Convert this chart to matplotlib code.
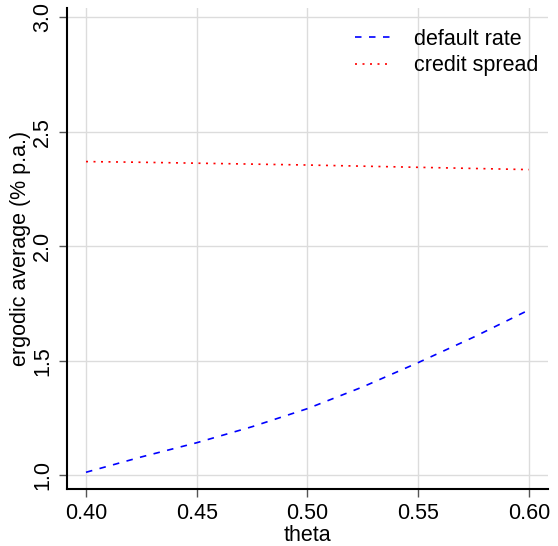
import matplotlib
matplotlib.use('Agg')
import numpy as np
import matplotlib.pyplot as plt

plt.rcParams['font.family'] = ['Liberation Sans', 'DejaVu Sans']

theta = [0.400, 0.425, 0.450, 0.475, 0.500, 0.525, 0.550, 0.575, 0.600]
default_rate = [1.013, 1.080, 1.142, 1.212, 1.291, 1.386, 1.492, 1.603, 1.722]
credit_spread = [2.370, 2.367, 2.363, 2.359, 2.355, 2.350, 2.345, 2.340, 2.335]

xticks = [0.40, 0.45, 0.50, 0.55, 0.60]
yticks = [1.0, 1.5, 2.0, 2.5, 3.0]

fig = plt.figure(figsize=(5.58, 5.46), dpi=100)
ax = fig.add_axes([0.12, 0.104, 0.862, 0.881])

ax.plot(theta, default_rate, color='blue', lw=1.2, dashes=(3.9, 4.5), label='default rate')
ax.plot(theta, credit_spread, color='red', lw=1.2, dashes=(1.2, 3.3), label='credit spread')

ax.set_xlim(0.3914, 0.6086)
ax.set_ylim(0.939, 3.04)
ax.set_xticks(xticks)
ax.set_xticklabels([f'{t:.2f}' for t in xticks])
ax.set_yticks(yticks)
ax.set_yticklabels([f'{t:.1f}' for t in yticks], rotation=90, va='center')

ax.grid(True, color='#dcdcdc', lw=1)
ax.set_axisbelow(True)
for s in ['top', 'right']:
    ax.spines[s].set_visible(False)
for s in ['left', 'bottom']:
    ax.spines[s].set_linewidth(1.5)
ax.tick_params(labelsize=15.5, length=6, width=1, color='#555555', pad=4)

ax.set_xlabel('theta', fontsize=15.5, labelpad=1)
ax.set_ylabel('ergodic average (% p.a.)', fontsize=15.5, labelpad=1)

ax.legend(loc='upper right', bbox_to_anchor=(1.0, 0.977), frameon=False,
          fontsize=15.5, handlelength=1.75, handletextpad=1.0,
          borderaxespad=0.05, labelspacing=0.25)

fig.savefig('out.png', dpi=100)
